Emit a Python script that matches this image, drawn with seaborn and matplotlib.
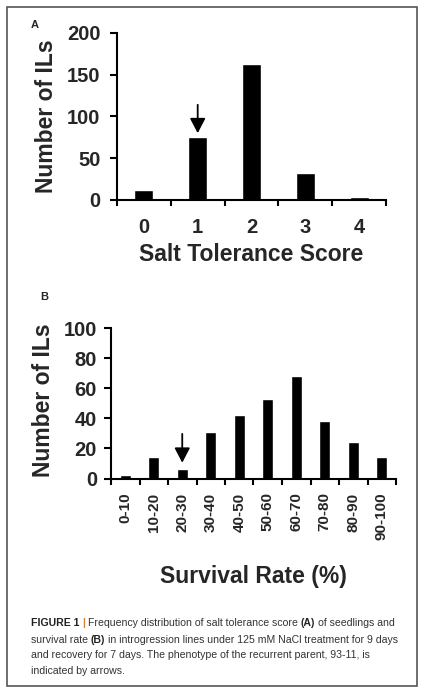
import numpy as np
import pandas as pd
import matplotlib.pyplot as plt
import seaborn as sns
from matplotlib import font_manager
from matplotlib.patches import Rectangle

# ---------data-----------------------------------------------------------------
score_labels = ['0', '1', '2', '3', '4']
score_counts = [12, 75, 163, 32, 3]
parent_score = '1'

survival_labels = ['0-10', '10-20', '20-30', '30-40', '40-50',
                   '50-60', '60-70', '70-80', '80-90', '90-100']
survival_counts = [2, 14, 6, 31, 42, 53, 68, 38, 24, 14]
parent_survival = '20-30'

caption_lines = [
    [('FIGURE 1', 'bold', '#222222'), ('|', 'bold', '#e0822a'),
     ('Frequency distribution of salt tolerance score', 'normal', '#333333'),
     ('(A)', 'bold', '#222222'), ('of seedlings and', 'normal', '#333333')],
    [('survival rate', 'normal', '#333333'), ('(B)', 'bold', '#222222'),
     ('in introgression lines under 125 mM NaCl treatment for 9 days', 'normal', '#333333')],
    [('and recovery for 7 days. The phenotype of the recurrent parent, 93-11, is', 'normal', '#333333')],
    [('indicated by arrows.', 'normal', '#333333')],
]

# ---------figure---------------------------------------------------------------
sns.set_style('ticks')
plt.rcParams['font.family'] = ['Liberation Sans', 'DejaVu Sans']
plt.rcParams['font.weight'] = 'bold'
plt.rcParams['axes.labelweight'] = 'bold'

W, H = 425, 693
fig = plt.figure(figsize=(W / 100, H / 100), dpi=100)
fig.patch.set_facecolor('white')


def fx(x):
    return x / W


def fy(y):
    return 1 - y / H


axA = fig.add_axes([fx(117), fy(200), (386 - 117) / W, (200 - 33) / H])
axB = fig.add_axes([fx(111), fy(478.5), (396 - 111) / W, (478.5 - 328.3) / H])

dfA = pd.DataFrame({'score': score_labels, 'n': score_counts})
dfB = pd.DataFrame({'rate': survival_labels, 'n': survival_counts})

sns.barplot(data=dfA, x='score', y='n', color='black', saturation=1,
            width=0.35, ax=axA)
sns.barplot(data=dfB, x='rate', y='n', color='black', saturation=1,
            width=0.375, ax=axB)


def style_axes(ax, n_cat, ymax, ystep):
    ax.set_xlim(-0.5, n_cat - 0.5)
    ax.set_ylim(0, ymax)
    ax.set_yticks(np.arange(0, ymax + 1, ystep))
    ax.set_xticks(np.arange(-0.5, n_cat), minor=True)
    sns.despine(ax=ax)
    for s in ['left', 'bottom']:
        ax.spines[s].set_linewidth(1.5)
        ax.spines[s].set_color('black')
    ax.tick_params(axis='x', which='major', length=0)
    ax.tick_params(axis='x', which='minor', length=4.5, width=1.5,
                   direction='out', color='black')
    ax.tick_params(axis='y', length=5, width=1.5, color='black')


style_axes(axA, len(score_labels), 200, 50)
style_axes(axB, len(survival_labels), 100, 20)

# panel A text
axA.tick_params(axis='x', pad=13, labelsize=14.5)
axA.tick_params(axis='y', pad=7, labelsize=14.5)
axA.set_xlabel('Salt Tolerance Score', fontsize=16.5, va='center')
axA.set_ylabel('Number of ILs', fontsize=16.5, va='center')
axA.xaxis.set_label_coords(0.5, (200 - 254.5) / 167)
axA.yaxis.set_label_coords((46.5 - 117) / 269, 0.5)

# panel B text: the rotated class labels are set in a narrow face
installed = {f.name for f in font_manager.fontManager.ttflist}
if 'Liberation Sans Narrow' in installed:
    narrow_family, narrow_size = 'Liberation Sans Narrow', 13.5
else:
    narrow_family, narrow_size = 'Liberation Sans', 11
axB.tick_params(axis='x', pad=10, labelrotation=90)
axB.tick_params(axis='y', pad=5, labelsize=14.5)
for lab in axB.get_xticklabels():
    lab.set_fontfamily(narrow_family)
    lab.set_fontsize(narrow_size)
axB.set_xlabel('Survival Rate (%)', fontsize=16.5, va='center')
axB.set_ylabel('Number of ILs', fontsize=16.5, va='center')
axB.xaxis.set_label_coords(0.5, (478.5 - 576) / 150.2)
axB.yaxis.set_label_coords((43 - 111) / 285, (478.5 - 400) / 150.2)

# arrows for the recurrent parent 93-11
arrow = dict(arrowstyle='-|>,head_width=0.47,head_length=0.9', color='black',
             lw=1.3, mutation_scale=10, shrinkA=0, shrinkB=0)
axA.annotate('', xy=(score_labels.index(parent_score), 80),
             xytext=(score_labels.index(parent_score), 114), arrowprops=arrow)
axB.annotate('', xy=(survival_labels.index(parent_survival), 10.5),
             xytext=(survival_labels.index(parent_survival), 29.7), arrowprops=arrow)

# panel letters
fig.text(fx(35), fy(25), 'A', fontsize=8, ha='center', va='center')
fig.text(fx(44), fy(297), 'B', fontsize=8, ha='center', va='center')

# frame
fig.patches.append(Rectangle((fx(7), fy(686)), (417 - 7) / W, (686 - 7) / H,
                             transform=fig.transFigure, fill=False,
                             edgecolor='#555555', lw=1.2))

# caption, run by run
cap_size = 7.55
renderer = fig.canvas.get_renderer()
space = 0.278 * cap_size * 100 / 72
baselines = [626.5, 643, 658.5, 673.5]
for runs, yb in zip(caption_lines, baselines):
    x = 31
    for s, weight, color in runs:
        t = fig.text(fx(x), fy(yb), s, fontsize=cap_size, fontweight=weight,
                     color=color, va='baseline', ha='left')
        x += t.get_window_extent(renderer).width + space

fig.savefig('out.png', dpi=100)
